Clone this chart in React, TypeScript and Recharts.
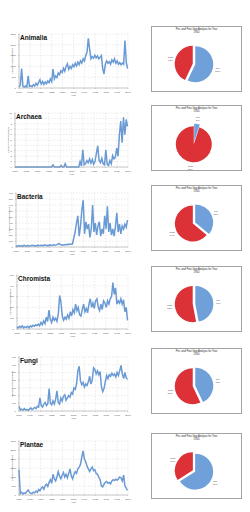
import { CartesianGrid, Cell, Label, Line, LineChart, Pie, PieChart, XAxis, YAxis } from 'recharts';

// sampled every third year
const years = [
  1750, 1753, 1756, 1759, 1762, 1765, 1768, 1771, 1774, 1777,
  1780, 1783, 1786, 1789, 1792, 1795, 1798, 1801, 1804, 1807,
  1810, 1813, 1816, 1819, 1822, 1825, 1828, 1831, 1834, 1837,
  1840, 1843, 1846, 1849, 1852, 1855, 1858, 1861, 1864, 1867,
  1870, 1873, 1876, 1879, 1882, 1885, 1888, 1891, 1894, 1897,
  1900, 1903, 1906, 1909, 1912, 1915, 1918, 1921, 1924, 1927,
  1930, 1933, 1936, 1939, 1942, 1945, 1948, 1951, 1954, 1957,
  1960, 1963, 1966, 1969, 1972, 1975, 1978, 1981, 1984, 1987,
  1990, 1993, 1996, 1999,
];
const yearTicks = [1750, 1775, 1800, 1825, 1850, 1875, 1900, 1925, 1950, 1975, 2000];

const animalia = [
  60, 120, 900, 80, 40, 90, 50, 560, 70, 110,
  60, 150, 90, 220, 130, 260, 380, 180, 300, 160,
  280, 200, 330, 250, 420, 300, 880, 420, 560, 480,
  700, 620, 800, 720, 920, 780, 1000, 1120, 860, 1000,
  900, 1080, 980, 1150, 1020, 1200, 1080, 1260, 1150, 1350,
  1250, 1500, 1650, 2300, 1800, 1350, 1450, 1380, 1520, 1400,
  1480, 1350, 1420, 1500, 900, 650, 1100, 1250, 1150, 1220,
  1100, 1300, 1200, 1350, 1150, 1250, 1100, 1180, 1080, 1150,
  1100, 2200, 1200, 900,
];
const archaea = [
  0, 0, 0, 0, 0, 0, 0, 0, 0, 0,
  0, 0, 0, 0, 0, 0, 0, 0, 0, 0,
  0, 0, 0, 0, 0, 0, 0, 0, 0.4, 0,
  0, 0, 0, 0, 0.3, 0, 0, 0.6, 0, 0,
  0, 0, 0, 0, 0, 0, 0, 0, 1, 0.2,
  3.2, 0.4, 0.6, 1.2, 0.8, 1.5, 0.7, 1.4, 0.5, 1,
  2.5, 3.9, 1.2, 0.8, 1.6, 0.6, 0.4, 3.2, 0.5, 0.3,
  1.2, 0.6, 2.1, 1.5, 1.8, 3.5, 2, 6, 8.5, 4.5,
  9.2, 6, 8.8, 7.5,
];
const bacteria = [
  20, 10, 25, 15, 20, 10, 30, 15, 20, 25,
  15, 20, 30, 20, 25, 15, 30, 20, 25, 30,
  20, 35, 25, 30, 20, 35, 30, 25, 40, 30,
  35, 45, 60, 40, 35, 30, 40, 35, 45, 40,
  50, 45, 50, 150, 250, 400, 520, 180, 350, 620,
  780, 220, 420, 300, 380, 160, 300, 700, 250, 400,
  200, 350, 420, 180, 300, 220, 520, 300, 680, 250,
  400, 200, 300, 180, 350, 570, 250, 380, 220, 350,
  300, 380, 330, 450,
];
const chromista = [
  20, 10, 25, 15, 30, 10, 20, 15, 25, 10,
  30, 20, 35, 25, 40, 30, 45, 30, 60, 40,
  75, 50, 110, 70, 175, 90, 60, 110, 80, 100,
  70, 140, 310, 250, 120, 80, 110, 90, 130, 100,
  160, 120, 180, 150, 230, 170, 200, 130, 120, 180,
  230, 160, 190, 150, 230, 280, 200, 240, 190, 260,
  280, 200, 170, 230, 180, 260, 240, 200, 260, 230,
  280, 300, 430, 320, 380, 230, 260, 240, 280, 230,
  270, 160, 200, 80,
];
const fungi = [
  60, 15, 25, 10, 30, 15, 20, 10, 25, 40,
  20, 30, 45, 30, 60, 50, 170, 70, 50, 90,
  110, 70, 90, 290, 100, 80, 130, 90, 150, 260,
  110, 90, 170, 130, 190, 210, 140, 170, 200, 180,
  240, 220, 300, 280, 350, 520, 580, 390, 340, 370,
  310, 350, 330, 380, 450, 350, 400, 560, 540, 480,
  520, 470, 510, 320, 250, 290, 380, 460, 420, 470,
  450, 490, 460, 480, 440, 500, 460, 520, 590, 480,
  420, 500, 430, 410,
];
const plantae = [
  1400, 80, 150, 60, 120, 90, 200, 280, 150, 100,
  80, 160, 120, 220, 150, 300, 230, 380, 450, 320,
  520, 600, 480, 700, 850, 650, 1150, 900, 780, 1000,
  1300, 1050, 900, 1100, 1250, 1000, 1150, 950, 1200, 1450,
  1050, 900, 1150, 1300, 1200, 1450, 1550, 1700, 2100, 2450,
  2000, 1850, 1600, 1450, 1300, 1450, 1550, 1350, 1400, 1200,
  1150, 1000, 850, 500, 450, 600, 700, 750, 650, 700,
  620, 780, 850, 800, 880, 820, 900, 1000, 950, 780,
  1100, 500, 380, 250,
];

const kingdoms = ['Animalia', 'Archaea', 'Bacteria', 'Chromista', 'Fungi', 'Plantae'];
const counts = [animalia, archaea, bacteria, chromista, fungi, plantae];
const countTicks = [
  [0, 500, 1000, 1500, 2000, 2500],
  [0, 1, 2, 3, 4, 5, 6, 7, 8, 9, 10],
  [0, 100, 200, 300, 400, 500, 600, 700, 800, 900],
  [0, 100, 200, 300, 400, 500],
  [0, 100, 200, 300, 400, 500, 600, 700],
  [0, 500, 1000, 1500, 2000, 2500, 3000],
];
const preShare = [57, 5, 36, 47, 43, 66];
const postShare = [43, 95, 64, 53, 57, 34];
const splitYear = '1950';

// layout
const plotTops = [34, 113, 193, 275, 357, 441];
const plotLefts = [19, 15, 16, 17, 19, 19];
const boxTops = [26, 105, 185, 266, 348, 433];

const LINE_BLUE = '#6a9ad4';
const PIE_BLUE = '#6fa0da';
const PIE_RED = '#dc3237';
const FONT = 'Arial, "Liberation Sans", sans-serif';
const RAD = Math.PI / 180;
const tiny = { fontSize: 2.5, fill: '#555', fontFamily: FONT };

function TrendChart({ k }: { k: number }) {
  const rows = years.map((year, i) => ({ year, count: counts[k][i] }));
  const ticks = countTicks[k];
  const yw = plotLefts[k];
  return (
    <div style={{ position: 'absolute', left: 0, top: plotTops[k] - 2, width: 132, height: 64 }}>
      <LineChart width={132} height={64} data={rows} margin={{ top: 2, right: 4, bottom: 0, left: 0 }}>
        <CartesianGrid stroke="#d6d6d6" strokeWidth={0.5} strokeDasharray="1.5 1.5" />
        <XAxis
          dataKey="year"
          type="number"
          domain={[1750, 2000]}
          ticks={yearTicks}
          interval={0}
          height={8}
          tick={tiny}
          tickSize={1}
          tickLine={{ stroke: '#999', strokeWidth: 0.4 }}
          axisLine={{ stroke: '#999', strokeWidth: 0.5 }}
        >
          <Label value="Year" position="insideBottom" offset={0} style={tiny} />
        </XAxis>
        <YAxis
          width={yw}
          domain={[0, ticks[ticks.length - 1]]}
          ticks={ticks}
          interval={0}
          tick={tiny}
          tickSize={1}
          tickLine={{ stroke: '#999', strokeWidth: 0.4 }}
          axisLine={{ stroke: '#999', strokeWidth: 0.5 }}
        >
          <Label
            value="Number of Descriptions"
            angle={-90}
            position="insideLeft"
            offset={yw - 7}
            style={{ ...tiny, textAnchor: 'middle' }}
          />
        </YAxis>
        <Line type="linear" dataKey="count" stroke={LINE_BLUE} strokeWidth={1.5} dot={false} isAnimationActive={false} />
      </LineChart>
      <div
        style={{
          position: 'absolute',
          left: yw + 1,
          top: 2,
          fontFamily: FONT,
          fontWeight: 'bold',
          fontSize: 6.5,
          lineHeight: '7px',
          color: '#111',
        }}
      >
        {kingdoms[k]}
      </div>
    </div>
  );
}

function sliceLabel(which: number) {
  return (props: any) => {
    if (props.index !== which) return null;
    const { cx, cy, midAngle, outerRadius, name, percent } = props;
    const r = outerRadius + 5;
    const x = cx + r * Math.cos(-midAngle * RAD);
    const y = cy + r * Math.sin(-midAngle * RAD);
    return (
      <text x={x} y={y} textAnchor="middle" style={{ ...tiny, fill: '#444' }}>
        <tspan x={x} dy={-0.5}>{name}</tspan>
        <tspan x={x} dy={3}>{Math.round(percent * 100)}%</tspan>
      </text>
    );
  };
}

function SplitPie({ k }: { k: number }) {
  const slices = [
    { name: 'Pre', value: preShare[k] },
    { name: 'Post', value: postShare[k] },
  ];
  const total = preShare[k] + postShare[k];
  const preMid = 90 - (180 * preShare[k]) / total;
  const postMid = 90 - (360 * preShare[k]) / total - (180 * postShare[k]) / total;
  const cx = 42;
  const cy = 37;
  const d = 1.3;
  const common = {
    data: slices,
    dataKey: 'value',
    nameKey: 'name',
    outerRadius: 18,
    startAngle: 90,
    endAngle: -270,
    stroke: 'none',
    labelLine: false,
    isAnimationActive: false,
  };
  return (
    <div
      style={{
        position: 'absolute',
        left: 151,
        top: boxTops[k],
        width: 91,
        height: 66,
        border: '1px solid #a3a3a3',
        boxSizing: 'border-box',
        background: '#fff',
      }}
    >
      <div
        style={{
          position: 'absolute',
          left: 0,
          right: 0,
          top: 1,
          textAlign: 'center',
          fontFamily: FONT,
          fontSize: 2.6,
          lineHeight: '3px',
          color: '#222',
        }}
      >
        Pre- and Post-Gap Analysis for Year
        <br />
        {splitYear}
      </div>
      <PieChart width={89} height={64} margin={{ top: 0, right: 0, bottom: 0, left: 0 }}>
        <Pie
          {...common}
          cx={cx + d * Math.cos(preMid * RAD)}
          cy={cy - d * Math.sin(preMid * RAD)}
          label={sliceLabel(0)}
        >
          <Cell fill={PIE_BLUE} />
          <Cell fill="transparent" />
        </Pie>
        <Pie
          {...common}
          cx={cx + d * Math.cos(postMid * RAD)}
          cy={cy - d * Math.sin(postMid * RAD)}
          label={sliceLabel(1)}
        >
          <Cell fill="transparent" />
          <Cell fill={PIE_RED} />
        </Pie>
      </PieChart>
    </div>
  );
}

export default function App() {
  return (
    <div style={{ position: 'absolute', left: 0, top: 0, width: 250, height: 512, background: '#fff' }}>
      {kingdoms.map((name, k) => (
        <div key={name}>
          <TrendChart k={k} />
          <SplitPie k={k} />
        </div>
      ))}
    </div>
  );
}
